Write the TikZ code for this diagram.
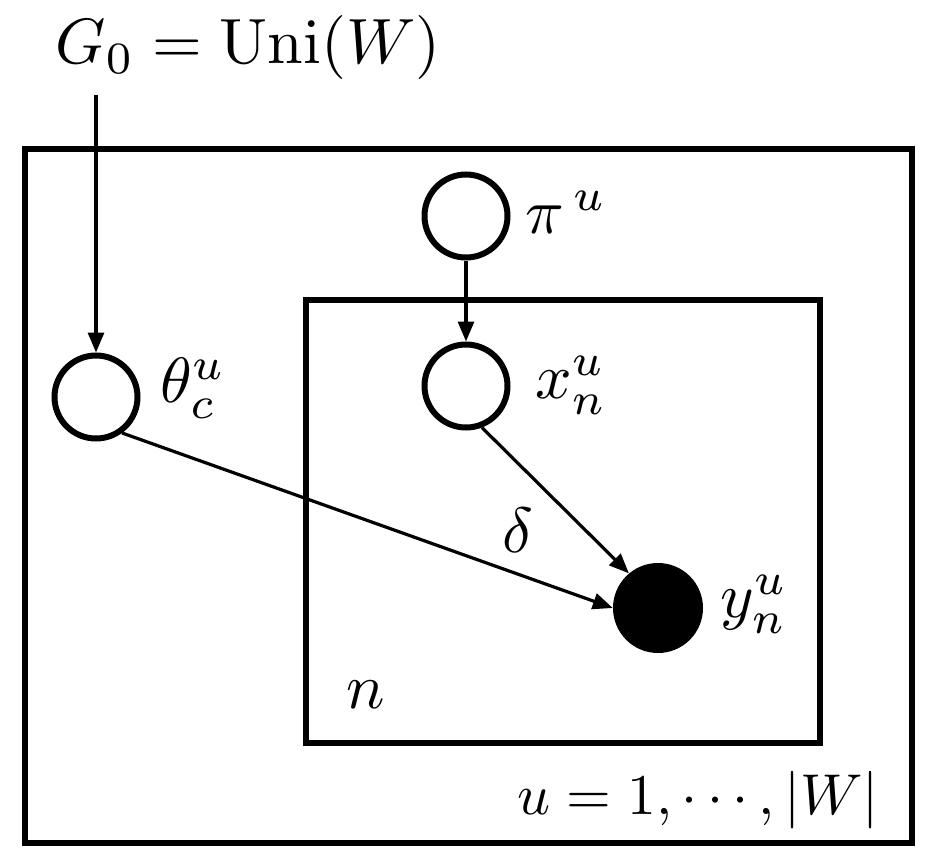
\documentclass[tikz,border=0pt]{standalone}
\usetikzlibrary{arrows.meta}
\begin{document}
\begin{tikzpicture}[x=1pt,y=-1pt,
  latent/.style={circle,draw,line width=6pt,minimum size=83pt,inner sep=0pt,fill=white},
  obs/.style={circle,fill=black,minimum size=90pt,inner sep=0pt},
  lbl/.style={scale=6.4,inner sep=0pt},
  plate/.style={draw,line width=6.5pt},
  edge/.style={line width=3.2pt,-{Triangle[length=20pt,width=16pt]}}]
\useasboundingbox (0,0) rectangle (935,859);
\draw[plate] (25,149) rectangle (912,843);
\draw[plate,line width=5.5pt] (306,300) rectangle (820,743);
\node[latent] (theta) at (96,397) {};
\node[latent] (pi) at (466,216) {};
\node[latent] (x) at (466,386) {};
\node[obs] (y) at (658,608) {};
\node[lbl] (g0) at (248,48) {$G_0=\mathrm{Uni}(W)$};
\coordinate (g0s) at (96,95);
\node[lbl] (lpi) at (566,212) {$\pi^{\,u}$};
\node[lbl] (ltheta) at (193,388) {$\theta_c^u$};
\node[lbl] (lx) at (571,385) {$x_n^u$};
\node[lbl] (ly) at (754,604) {$y_n^u$};
\node[lbl] (ld) at (518,530) {$\delta$};
\node[lbl] (ln) at (366,695) {$n$};
\node[lbl,scale=0.9] (lu) at (698,800) {$u=1,\cdots,|W|$};
\draw[edge] (g0s) -- (theta);
\draw[edge] (pi) -- (x);
\draw[edge] (theta.-54) -- (y.west);
\draw[edge] (x.-69) -- (y.130);
\end{tikzpicture}
\end{document}
